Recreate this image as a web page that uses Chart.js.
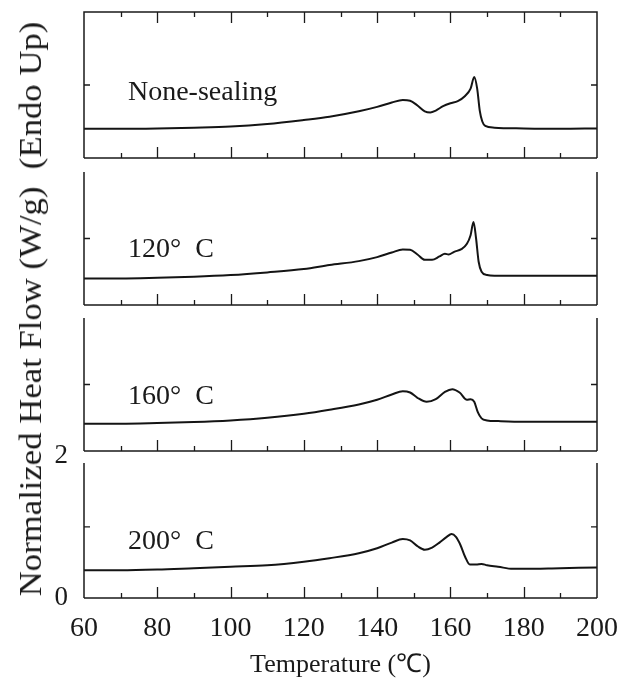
<!DOCTYPE html>
<html>
<head>
<meta charset="utf-8">
<script src="https://cdn.jsdelivr.net/npm/chart.js@4.4.1/dist/chart.umd.min.js"></script>
<style>
  body { margin: 0; background: #fff; }
  #wrap { position: relative; width: 619px; height: 687px; }
  #wrap canvas { position: absolute; left: 0; top: 0; }
  #ylab {
    position: absolute; left: 31px; top: 309px;
    transform: translate(-50%, -50%) rotate(-90deg) scaleX(1.12);
    white-space: pre; font: 31px "Liberation Serif"; color: #1a1a1a;
  }
</style>
</head>
<body>
<div id="wrap">
  <canvas id="p0" width="619" height="687"></canvas>
  <canvas id="p1" width="619" height="687"></canvas>
  <canvas id="p2" width="619" height="687"></canvas>
  <canvas id="p3" width="619" height="687"></canvas>
  <div id="ylab">Normalized Heat Flow (W/g)  (Endo Up)</div>
</div>
<script>
// DSC traces, temperature (°C) vs heat flow (W/g)
const panelNames = ['None-sealing', '120°  C', '160°  C', '200°  C'];

const tempNone = [60, 70, 80, 90, 100, 110, 120, 127, 135, 140, 144, 147, 149, 151, 153, 154.5, 156, 158, 160, 162, 164, 165.5, 166.5, 167.3, 168, 168.7, 169.5, 172, 180, 190, 200];
const flowNone = [0.40, 0.40, 0.405, 0.415, 0.43, 0.465, 0.52, 0.565, 0.64, 0.70, 0.76, 0.795, 0.785, 0.72, 0.64, 0.625, 0.65, 0.71, 0.75, 0.78, 0.85, 0.95, 1.11, 0.95, 0.65, 0.50, 0.44, 0.415, 0.405, 0.40, 0.405];

const temp120 = [60, 70, 80, 90, 100, 110, 120, 127, 135, 140, 144, 147, 149, 151, 153, 155, 157, 158.5, 159.5, 161, 163, 164.5, 165.5, 166.3, 167, 167.7, 168.5, 170, 172, 180, 190, 200];
const flow120 = [0.40, 0.40, 0.41, 0.425, 0.45, 0.49, 0.54, 0.60, 0.66, 0.72, 0.79, 0.835, 0.83, 0.76, 0.68, 0.68, 0.73, 0.77, 0.76, 0.80, 0.84, 0.92, 1.05, 1.25, 1.0, 0.65, 0.50, 0.45, 0.44, 0.44, 0.44, 0.44];

const temp160 = [60, 70, 80, 90, 100, 110, 120, 127, 135, 140, 144, 147, 149, 151, 153.5, 156, 158.5, 160.5, 162.5, 164.5, 165.5, 166.5, 167.5, 168.5, 170, 173, 180, 190, 200];
const flow160 = [0.41, 0.41, 0.42, 0.435, 0.46, 0.50, 0.56, 0.62, 0.70, 0.77, 0.85, 0.90, 0.88, 0.80, 0.74, 0.78, 0.89, 0.93, 0.88, 0.77, 0.78, 0.74, 0.58, 0.49, 0.46, 0.45, 0.44, 0.44, 0.44];

const temp200 = [60, 70, 80, 90, 100, 110, 120, 127, 135, 140, 144, 147, 149, 151, 153, 155, 157, 159, 160.3, 161.5, 162.7, 164, 165.3, 167, 168.5, 170, 173, 177, 180, 190, 200];
const flow200 = [0.39, 0.39, 0.40, 0.42, 0.44, 0.46, 0.51, 0.56, 0.63, 0.70, 0.78, 0.83, 0.81, 0.73, 0.68, 0.71, 0.78, 0.86, 0.90, 0.86, 0.75, 0.58, 0.47, 0.47, 0.48, 0.46, 0.44, 0.41, 0.41, 0.42, 0.43];

const xTicks = [60, 70, 80, 90, 100, 110, 120, 130, 140, 150, 160, 170, 180, 190, 200];
const yTicks = [0, 2];

const ink = '#1a1a1a';
const serif = 'Liberation Serif';

// box around each panel with inward ticks, plus the panel caption
const panelFrame = {
  id: 'panelFrame',
  afterDraw(chart, args, opts) {
    const { ctx, chartArea: a, scales: { x, y } } = chart;
    ctx.save();
    ctx.strokeStyle = ink;
    ctx.lineWidth = 1.5;
    ctx.beginPath();
    if (opts.closed) {
      ctx.moveTo(a.left, a.bottom);
      ctx.lineTo(a.left, a.top);
      ctx.lineTo(a.right, a.top);
      ctx.lineTo(a.right, a.bottom);
    } else {
      ctx.moveTo(a.left, a.top);
      ctx.lineTo(a.left, a.bottom);
      ctx.moveTo(a.right, a.top);
      ctx.lineTo(a.right, a.bottom);
    }
    ctx.moveTo(a.left, a.bottom);
    ctx.lineTo(a.right, a.bottom);
    ctx.stroke();

    ctx.lineWidth = 1.3;
    ctx.beginPath();
    xTicks.forEach(t => {
      if (t === x.min || t === x.max) return;
      const px = Math.round(x.getPixelForValue(t)) + 0.5;
      const len = t % 20 === 0 ? 11 : 5;
      ctx.moveTo(px, a.bottom);
      ctx.lineTo(px, a.bottom - len);
      if (opts.closed) {
        ctx.moveTo(px, a.top);
        ctx.lineTo(px, a.top + len);
      }
    });
    const py = y.getPixelForValue(1);
    ctx.moveTo(a.left, py);
    ctx.lineTo(a.left + 6, py);
    ctx.moveTo(a.right, py);
    ctx.lineTo(a.right - 6, py);
    ctx.stroke();

    ctx.fillStyle = ink;
    ctx.font = `28px "${serif}"`;
    ctx.textBaseline = 'middle';
    ctx.fillText(opts.name, x.getPixelForValue(72), y.getPixelForValue(opts.nameLevel));
    ctx.restore();
  }
};

function makePanel(id, temps, flow, opts) {
  const bottomPanel = !!opts.bottomPanel;
  const xScale = {
    type: 'linear', min: 60, max: 200,
    display: bottomPanel,
    grid: { display: false, drawTicks: false },
    border: { display: false }
  };
  const yScale = {
    min: 0, max: opts.yMax,
    display: bottomPanel,
    grid: { display: false, drawTicks: false },
    border: { display: false }
  };
  if (bottomPanel) {
    Object.assign(xScale, {
      afterBuildTicks: s => { s.ticks = xTicks.map(v => ({ value: v })); },
      afterFit: s => {
        s.height = 687 - opts.bottom;
        s.paddingLeft = 0;
        s.paddingRight = 0;
      },
      ticks: {
        autoSkip: false, maxRotation: 0, padding: 14, color: ink,
        font: { family: serif, size: 28 },
        callback: v => (v % 20 === 0 ? v : '')
      },
      title: {
        display: true, text: 'Temperature (℃)', color: ink,
        font: { family: serif, size: 26 },
        padding: { top: 0, bottom: 6 }
      }
    });
    Object.assign(yScale, {
      afterBuildTicks: s => { s.ticks = yTicks.map(v => ({ value: v })); },
      afterFit: s => {
        s.width = 84;
        s.paddingTop = 0;
        s.paddingBottom = 0;
      },
      ticks: {
        autoSkip: false, padding: 16, color: ink,
        font: { family: serif, size: 27 }
      }
    });
  }

  return new Chart(document.getElementById(id), {
    type: 'line',
    data: {
      datasets: [{
        data: temps.map((t, i) => ({ x: t, y: flow[i] })),
        borderColor: '#141414',
        borderWidth: 2,
        pointRadius: 0,
        fill: false,
        cubicInterpolationMode: 'monotone'
      }]
    },
    options: {
      responsive: false,
      animation: false,
      events: [],
      layout: {
        padding: bottomPanel
          ? { left: 0, right: 22, top: opts.top, bottom: 0 }
          : { left: 84, right: 22, top: opts.top, bottom: 687 - opts.bottom }
      },
      scales: { x: xScale, y: yScale },
      plugins: {
        legend: { display: false },
        tooltip: { enabled: false },
        panelFrame: { closed: opts.closed, name: opts.name, nameLevel: opts.nameLevel }
      }
    },
    plugins: [panelFrame]
  });
}

makePanel('p0', tempNone, flowNone, { top: 12, bottom: 158, yMax: 2, closed: true, name: panelNames[0], nameLevel: 0.9 });
makePanel('p1', temp120, flow120, { top: 172, bottom: 305, yMax: 2, closed: false, name: panelNames[1], nameLevel: 0.83 });
makePanel('p2', temp160, flow160, { top: 318, bottom: 451, yMax: 2, closed: false, name: panelNames[2], nameLevel: 0.81 });
makePanel('p3', temp200, flow200, { top: 463, bottom: 598, yMax: 1.9, closed: false, name: panelNames[3], nameLevel: 0.79, bottomPanel: true });
</script>
</body>
</html>
